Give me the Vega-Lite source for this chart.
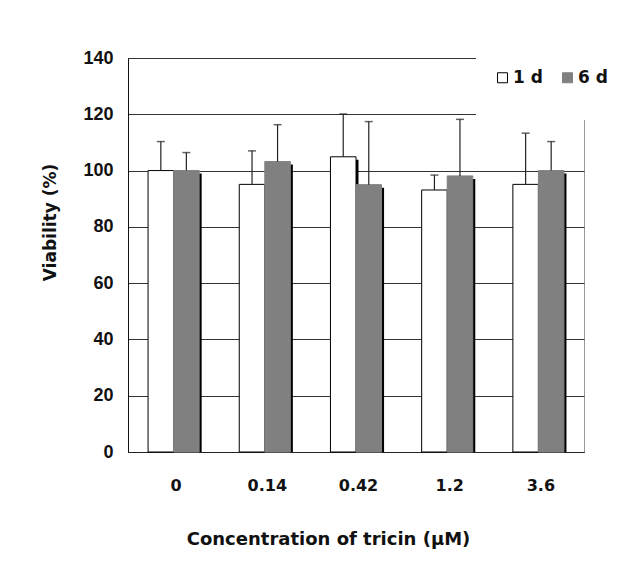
{
  "$schema": "https://vega.github.io/schema/vega-lite/v6.json",
  "width": 456,
  "height": 394,
  "autosize": {"type": "none"},
  "padding": {"left": 128, "top": 58, "right": 34, "bottom": 115},
  "background": "white",
  "data": {
    "values": [
      {"conc": "0", "day": "1 d", "value": 100, "upper": 110.3},
      {"conc": "0", "day": "6 d", "value": 100, "upper": 106.4},
      {"conc": "0.14", "day": "1 d", "value": 95.1, "upper": 107},
      {"conc": "0.14", "day": "6 d", "value": 103.2, "upper": 116.3},
      {"conc": "0.42", "day": "1 d", "value": 104.9, "upper": 120.1},
      {"conc": "0.42", "day": "6 d", "value": 95, "upper": 117.4},
      {"conc": "1.2", "day": "1 d", "value": 93.1, "upper": 98.4},
      {"conc": "1.2", "day": "6 d", "value": 98.1, "upper": 118.2},
      {"conc": "3.6", "day": "1 d", "value": 95.1, "upper": 113.3},
      {"conc": "3.6", "day": "6 d", "value": 100, "upper": 110.3}
    ]
  },
  "encoding": {
    "x": {
      "field": "conc", "type": "nominal", "sort": null,
      "scale": {"paddingInner": 0.44, "paddingOuter": 0.22},
      "axis": {
        "title": "Concentration of tricin (μM)",
        "labelAngle": 0,
        "labelFont": "DejaVu Sans", "labelFontWeight": "bold", "labelFontSize": 16, "labelColor": "#111",
        "labelPadding": 28, "labelOffset": 2,
        "titleFont": "DejaVu Sans", "titleFontWeight": "bold", "titleFontSize": 18, "titleColor": "#111",
        "titlePadding": 37, "titleX": 200,
        "domainColor": "#222", "domainWidth": 1,
        "ticks": true, "tickBand": "extent", "tickSize": -3, "tickColor": "#222",
        "grid": false
      }
    },
    "xOffset": {"field": "day", "type": "nominal", "scale": {"paddingInner": 0, "paddingOuter": 0}}
  },
  "layer": [
    {
      "mark": {"type": "bar", "color": "black", "yOffset": 3, "clip": true},
      "encoding": {
        "xOffset": {"field": "day", "type": "nominal", "scale": {"range": [2.5, 53.6], "paddingInner": 0, "paddingOuter": 0}},
        "y": {
          "field": "value", "type": "quantitative",
          "scale": {"domain": [0, 140]},
          "axis": {
            "values": [0, 20, 40, 60, 80, 100, 120, 140],
            "title": "Viability (%)",
            "labelFont": "Liberation Sans", "labelFontWeight": "bold", "labelFontSize": 18, "labelColor": "#111",
            "labelPadding": 15,
            "ticks": false,
            "domainColor": "#111", "domainWidth": 1,
            "grid": true, "gridColor": "#333", "gridWidth": 1, "gridOpacity": 1,
            "titleFont": "DejaVu Sans", "titleFontWeight": "bold", "titleFontSize": 17, "titleColor": "#111",
            "titleX": -78, "titleY": 164, "titleAngle": -90, "titleBaseline": "middle", "titleAlign": "center"
          }
        }
      }
    },
    {
      "mark": {"type": "bar", "strokeWidth": 1},
      "encoding": {
        "y": {"field": "value", "type": "quantitative"},
        "fill": {
          "field": "day", "type": "nominal",
          "scale": {"domain": ["1 d", "6 d"], "range": ["white", "#808080"]},
          "legend": {
            "orient": "none", "legendX": 348, "legendY": -7, "direction": "horizontal",
            "title": " ", "titleOrient": "bottom", "titleFontSize": 8, "titlePadding": 8,
            "fillColor": "white", "padding": 18,
            "symbolType": "square", "symbolSize": 100, "symbolStrokeWidth": 1,
            "labelFont": "DejaVu Sans", "labelFontWeight": "bold", "labelFontSize": 17, "labelColor": "#111",
            "labelOffset": 2, "columnPadding": 16
          }
        },
        "stroke": {
          "field": "day", "type": "nominal",
          "scale": {"domain": ["1 d", "6 d"], "range": ["black", "#808080"]},
          "legend": {
            "orient": "none", "legendX": 348, "legendY": -7, "direction": "horizontal",
            "title": " ", "titleOrient": "bottom", "titleFontSize": 8, "titlePadding": 8,
            "fillColor": "white", "padding": 18,
            "symbolType": "square", "symbolSize": 100, "symbolStrokeWidth": 1,
            "labelFont": "DejaVu Sans", "labelFontWeight": "bold", "labelFontSize": 17, "labelColor": "#111",
            "labelOffset": 2, "columnPadding": 16
          }
        }
      }
    },
    {
      "mark": {"type": "rule", "color": "#222", "strokeWidth": 1.2},
      "encoding": {
        "y": {"field": "value", "type": "quantitative"},
        "y2": {"field": "upper"}
      }
    },
    {
      "mark": {"type": "tick", "color": "#222", "size": 8, "thickness": 1.5},
      "encoding": {
        "y": {"field": "upper", "type": "quantitative"}
      }
    }
  ],
  "resolve": {"scale": {"xOffset": "independent"}},
  "config": {"view": {"stroke": "#999", "strokeWidth": 1}}
}
